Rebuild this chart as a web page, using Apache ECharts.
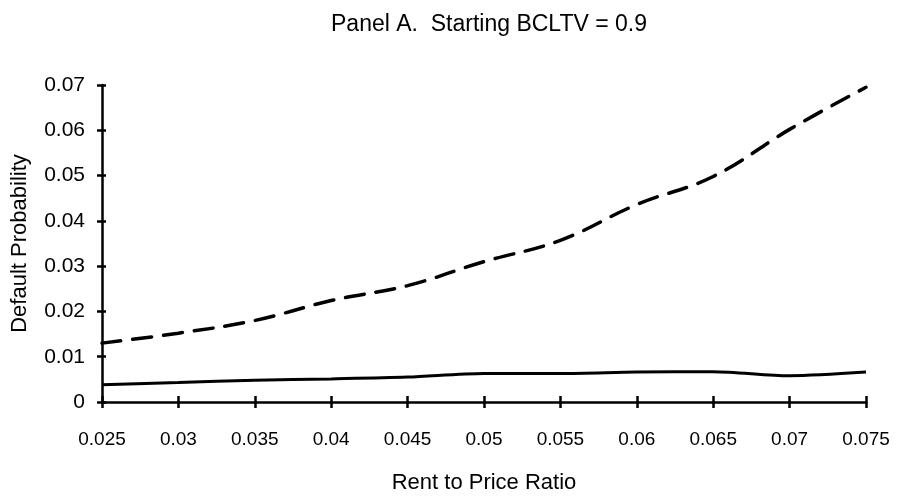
<!DOCTYPE html>
<html>
<head>
<meta charset="utf-8">
<title>Panel A. Starting BCLTV = 0.9</title>
<script src="https://cdn.jsdelivr.net/npm/echarts@6/dist/echarts.min.js"></script>
<style>
  html, body { margin: 0; padding: 0; background: #ffffff; }
  #chart { width: 904px; height: 500px; }
</style>
</head>
<body>
<div id="chart"></div>
<script>
// Rent-to-price ratios along the horizontal axis
const rentToPrice = ['0.025', '0.03', '0.035', '0.04', '0.045', '0.05', '0.055', '0.06', '0.065', '0.07', '0.075'];
// Default probability, dashed curve
const dashedSeries = [0.0130, 0.0152, 0.0180, 0.0224, 0.0257, 0.0310, 0.0357, 0.0436, 0.0498, 0.0602, 0.0695];
// Default probability, solid curve
const solidSeries = [0.0038, 0.0043, 0.0048, 0.0051, 0.0055, 0.0063, 0.0063, 0.0066, 0.0067, 0.0058, 0.0066];
// Vertical axis ticks
const yTicks = [0, 0.01, 0.02, 0.03, 0.04, 0.05, 0.06, 0.07];

const FONT = '"Liberation Sans", Arial, Helvetica, sans-serif';
const ink = '#000000';

const chart = echarts.init(document.getElementById('chart'), null, { renderer: 'canvas' });

const fmtY = v => {
  if (v === 0) return '0';
  return String(+v.toFixed(3));
};

const option = {
  backgroundColor: '#ffffff',
  animation: false,
  title: {
    text: 'Panel A.  Starting BCLTV = 0.9',
    left: 484,
    top: 8,
    textAlign: 'center',
    textStyle: { fontFamily: FONT, fontSize: 23, fontWeight: 'normal', color: ink }
  },
  grid: { left: 102, right: 38, top: 85, bottom: 98, containLabel: false },
  xAxis: [{
    type: 'category',
    data: rentToPrice,
    boundaryGap: false,
    name: 'Rent to Price Ratio',
    nameLocation: 'middle',
    nameGap: 70,
    nameTextStyle: { fontFamily: FONT, fontSize: 22, color: ink },
    axisLine: { show: true, lineStyle: { color: ink, width: 2.5 } },
    axisTick: { show: true, alignWithLabel: true, length: 6, lineStyle: { color: ink, width: 2.5 } },
    axisLabel: { margin: 28, fontFamily: FONT, fontSize: 19, color: ink },
    splitLine: { show: false }
  }, {
    // inner half of the crossing tick marks
    type: 'category',
    data: rentToPrice,
    boundaryGap: false,
    position: 'bottom',
    axisLine: { show: false },
    axisTick: { show: true, inside: true, length: 6, lineStyle: { color: ink, width: 2.5 } },
    axisLabel: { show: false },
    splitLine: { show: false }
  }],
  yAxis: [{
    type: 'value',
    min: 0,
    max: 0.07,
    interval: 0.01,
    name: 'Default Probability',
    nameLocation: 'middle',
    nameGap: 71,
    nameRotate: 90,
    nameTextStyle: { fontFamily: FONT, fontSize: 22, color: ink },
    axisLine: { show: true, lineStyle: { color: ink, width: 2.5 } },
    axisTick: { show: true, length: 5, lineStyle: { color: ink, width: 2.5 } },
    axisLabel: {
      margin: 17, fontFamily: FONT, fontSize: 21, color: ink,
      formatter: v => yTicks.some(t => Math.abs(t - v) < 1e-9) ? fmtY(v) : ''
    },
    splitLine: { show: false }
  }, {
    type: 'value',
    min: 0,
    max: 0.07,
    interval: 0.01,
    position: 'left',
    axisLine: { show: false },
    axisTick: { show: true, inside: true, length: 4, lineStyle: { color: ink, width: 2.5 } },
    axisLabel: { show: false },
    splitLine: { show: false }
  }],
  series: [{
    name: 'dashed',
    type: 'line',
    data: dashedSeries,
    smooth: 0.4,
    symbol: 'none',
    lineStyle: { color: ink, width: 3.5, type: [19, 12], cap: 'round' },
    z: 3
  }, {
    name: 'solid',
    type: 'line',
    data: solidSeries,
    smooth: 0.3,
    symbol: 'none',
    lineStyle: { color: ink, width: 3, type: 'solid' },
    z: 3
  }]
};

chart.setOption(option);
</script>
</body>
</html>
